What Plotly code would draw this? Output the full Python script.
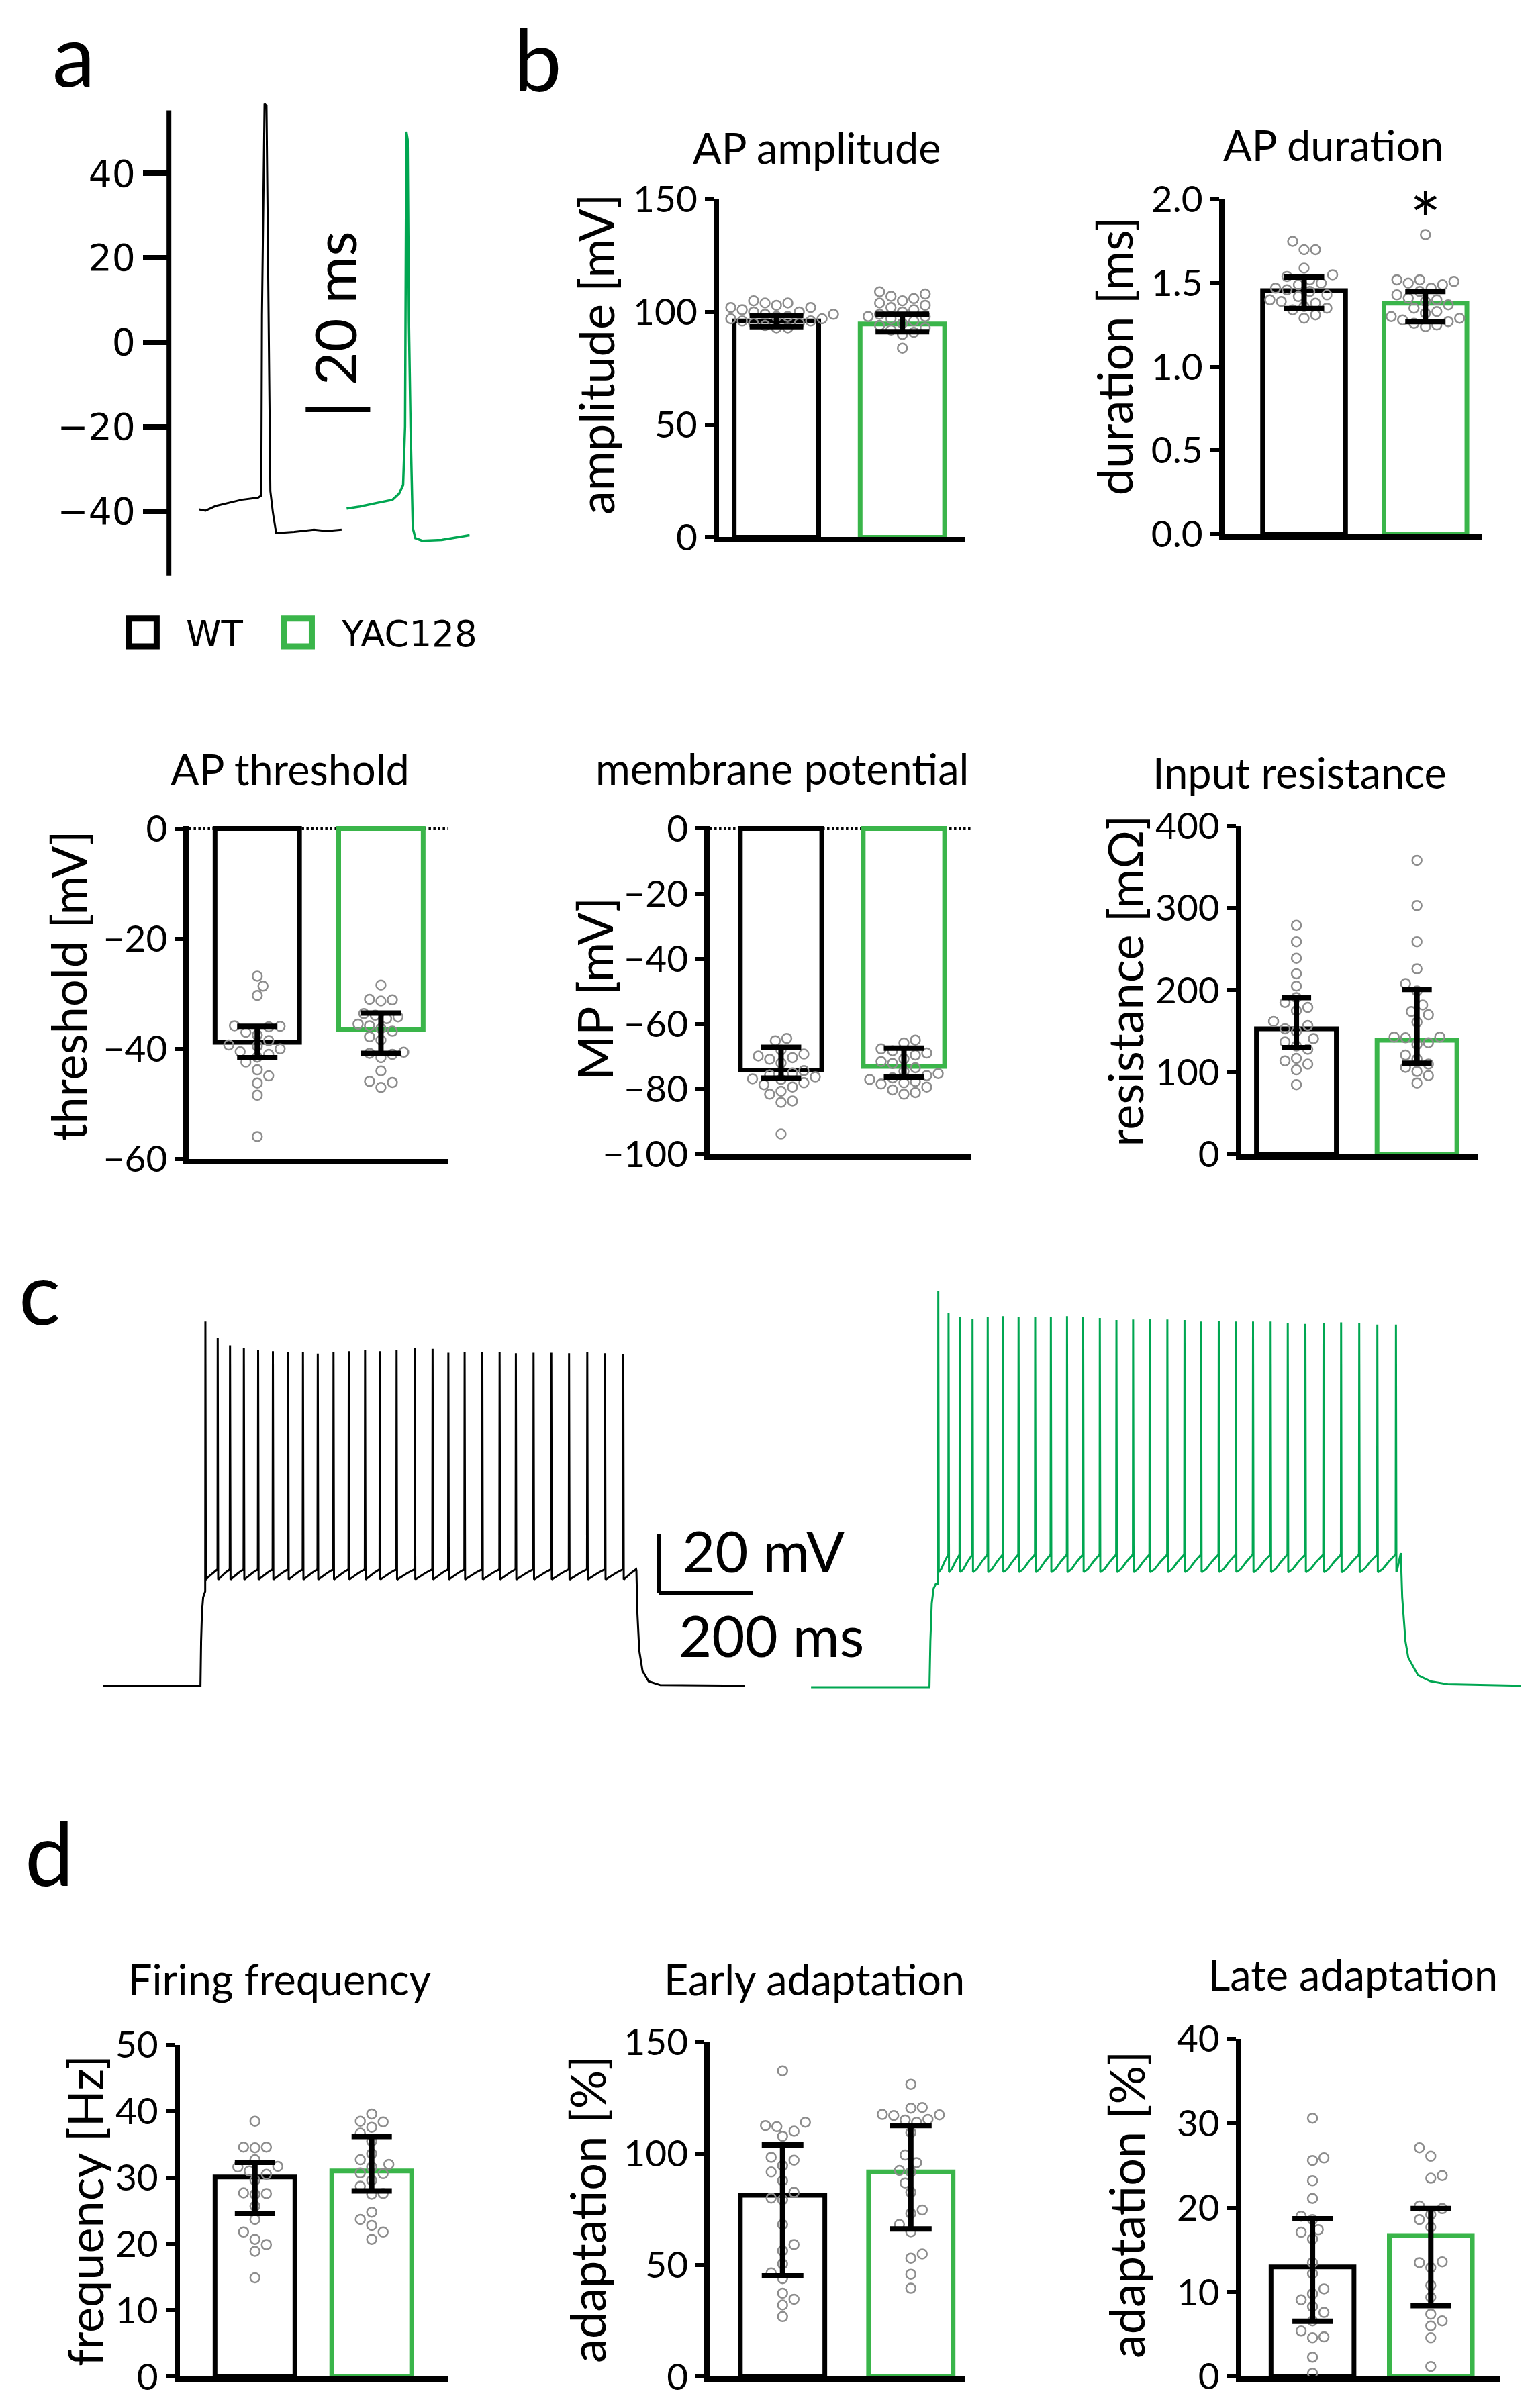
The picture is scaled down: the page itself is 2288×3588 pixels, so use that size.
import plotly.graph_objects as go

W, H = 2288, 3588
S = 2.288  # one reference layout unit -> output pixels

# the photographed page shows a slight vertical offset/compression; compensate it
Y_OFF, Y_K = 15.4, 0.9817


def PX(xd):
    return xd * S / W


def PY(yd):
    yc = (yd - Y_OFF) / Y_K
    return 1 - yc * S / H


BLACK = "#000000"
GREEN_BAR = "#3AB54A"
GREEN_TRACE = "#00A651"
GREY = "#8c8c8c"
FONT = "Lato"
FONT_A = "DejaVu Sans"

# ------------------------------------------------------------------ data
groups = ["WT", "YAC128"]

# panel a: single action potentials (time ms, voltage mV)
ap_wt_t = [0.0, 2.0, 5.1, 9.1, 13.2, 18.3, 19.3, 19.5, 20.3, 20.9, 21.3, 21.7, 22.1, 22.9, 23.9, 29.5, 35.6, 39.6, 44.2]
ap_wt_v = [-39.6, -39.9, -38.8, -38.1, -37.3, -36.8, -36.3, 6.3, 56.5, 56.0, 27.6, -7.9, -35.3, -40.4, -45.2, -44.9, -44.4, -44.7, -44.4]
ap_yac_t = [0.0, 4.1, 9.1, 14.2, 16.3, 17.5, 18.1, 18.5, 18.9, 19.3, 19.8, 20.5, 21.3, 23.4, 29.5, 34.5, 38.1]
ap_yac_v = [-39.4, -38.9, -38.1, -37.3, -35.8, -33.8, -20.0, 49.9, 48.0, 5.0, -20.0, -44.0, -46.4, -47.0, -46.8, -46.2, -45.7]
a_ticks = [-40, -20, 0, 20, 40]

# panel b / d : bar means, error-bar caps and individual cells
amp_mean = [96.0, 94.7]; amp_hi = [98.5, 99.0]; amp_lo = [93.5, 91.3]
amp_wt = [105, 104, 104, 103, 102, 102, 101, 100, 100, 99, 99, 98, 98, 97, 97, 96, 96, 95, 95, 94, 93, 93]
amp_yac = [109, 108, 107, 106, 105, 104, 103, 102, 101, 100, 99, 98, 98, 97, 96, 95, 94, 93, 92, 91, 90, 84]

dur_mean = [1.455, 1.38]; dur_hi = [1.536, 1.45]; dur_lo = [1.348, 1.27]
dur_wt = [1.75, 1.70, 1.70, 1.59, 1.55, 1.54, 1.52, 1.50, 1.49, 1.47, 1.46, 1.45, 1.43, 1.42, 1.40, 1.39, 1.38, 1.36, 1.35, 1.34, 1.31, 1.29]
dur_yac = [1.79, 1.52, 1.52, 1.51, 1.50, 1.49, 1.47, 1.45, 1.43, 1.41, 1.40, 1.39, 1.37, 1.35, 1.33, 1.32, 1.30, 1.29, 1.28, 1.27, 1.26, 1.25, 1.24]

thr_mean = [-38.8, -36.5]; thr_hi = [-35.9, -33.5]; thr_lo = [-41.6, -40.8]
thr_wt = [-26.8, -28.6, -30.3, -35.8, -35.9, -36.0, -37.0, -37.5, -38.5, -39.3, -39.5, -40.0, -40.5, -41.0, -41.5, -42.4, -43.8, -44.9, -46.2, -48.4, -55.9]
thr_yac = [-28.4, -31.0, -31.1, -31.3, -33.6, -33.9, -34.2, -34.5, -35.5, -35.8, -36.3, -36.8, -37.8, -38.4, -40.6, -40.8, -41.0, -41.6, -44.0, -45.9, -46.1, -47.0]

mp_mean = [-74.1, -73.0]; mp_hi = [-67.1, -67.4]; mp_lo = [-76.6, -76.3]
mp_wt = [-64.4, -65.1, -68.0, -69.2, -69.8, -70.3, -70.8, -72.0, -74.3, -75.0, -75.6, -76.2, -76.8, -77.0, -78.0, -78.6, -79.3, -80.6, -81.5, -83.6, -84.0, -93.7]
mp_yac = [-64.9, -65.8, -67.6, -68.2, -68.9, -69.5, -70.7, -71.5, -72.1, -73.4, -74.5, -75.2, -75.8, -76.5, -77.0, -77.6, -78.0, -78.4, -79.3, -80.2, -81.0, -81.5]

ir_mean = [153, 139]; ir_hi = [191, 201]; ir_lo = [130, 111]
ir_wt = [279, 259, 239, 220, 205, 191, 185, 179, 175, 162, 157, 153, 150, 141, 137, 132, 128, 117, 114, 110, 103, 85]
ir_yac = [358, 303, 259, 226, 208, 199, 182, 174, 170, 161, 143, 143, 142, 136, 134, 121, 116, 110, 106, 101, 96, 87]

ff_mean = [30.1, 31.0]; ff_hi = [32.3, 36.2]; ff_lo = [24.6, 28.0]
ff_wt = [38.5, 34.6, 34.6, 34.5, 32.7, 31.7, 31.6, 31.0, 30.5, 29.6, 27.7, 27.6, 27.5, 25.7, 23.7, 21.8, 20.7, 19.9, 18.9, 14.9]
ff_yac = [39.6, 38.5, 38.4, 37.6, 36.7, 35.5, 33.6, 32.7, 32.0, 31.6, 30.7, 30.6, 29.6, 28.7, 27.6, 27.5, 24.8, 23.7, 22.8, 21.8, 20.7]

ea_mean = [81.3, 91.7]; ea_hi = [103.8, 112.5]; ea_lo = [45.2, 66.2]
ea_wt = [137, 114, 112.5, 112, 110, 107.7, 98.3, 97, 94.6, 91.7, 87.8, 82.6, 80, 79.3, 68.2, 59.2, 56.4, 50.5, 46.5, 43.9, 37.4, 34.7, 32.1, 26.9]
ea_yac = [131, 120.6, 120.3, 117.5, 117.3, 117.0, 115.3, 115.0, 114, 109.4, 99.3, 95.9, 92.4, 91.7, 86.8, 82.6, 74.7, 73.1, 68.2, 64.9, 55, 53.1, 45.9, 39.6]

la_mean = [13.0, 16.7]; la_hi = [18.7, 19.9]; la_lo = [6.55, 8.4]
la_wt = [30.6, 25.9, 25.6, 23.2, 21.1, 19.0, 18.6, 17.4, 17.1, 16.3, 13.5, 12.2, 10.4, 9.8, 9.1, 8.3, 7.6, 6.6, 5.4, 4.7, 4.6, 2.3, 0.4]
la_yac = [27.1, 26.1, 23.8, 23.5, 20.2, 19.9, 19.2, 18.6, 17.7, 13.6, 13.5, 12.9, 10.8, 9.4, 7.4, 6.6, 6.0, 4.6, 1.2]

# panel c: spike trains during current step (ms, mV)
c_wt_on_t = [0.0, 208.3, 209.6, 211.5, 214.0, 217.6]
c_wt_on_v = [-70.0, -70.0, -55.0, -45.0, -40.0, -38.0]
c_wt_spk_t = [218.8, 245.1, 271.4, 300.9, 331.4, 362.9, 395.6, 427.1, 458.7, 492.3, 524.9, 559.7, 591.2, 627.0,
              665.9, 703.8, 737.5, 772.2, 810.0, 846.9, 881.6, 919.4, 957.3, 995.2, 1034.1, 1072.0, 1110.9]
c_wt_spk_v = [53.5, 48.0, 45.5, 44.7, 44.0, 43.5, 43.3, 43.3, 42.7, 43.3, 43.5, 44.0, 43.5, 44.0,
              44.5, 44.3, 43.0, 43.3, 43.3, 43.3, 42.8, 43.0, 43.0, 42.8, 43.3, 42.8, 42.5]
c_wt_trough = -33.0
c_wt_pre = -30.5
c_wt_off_t = [1139.0, 1141.0, 1145.0, 1152.0, 1165.0, 1190.0, 1370.7]
c_wt_off_v = [-31.0, -45.0, -58.0, -65.0, -68.5, -69.8, -70.0]

c_yac_on_t = [0.0, 253.1, 255.0, 258.0, 262.0, 266.5]
c_yac_on_v = [-70.5, -70.5, -55.0, -42.0, -37.0, -35.5]
c_yac_spk_t = [271.9, 293.8, 317.9, 345.1, 377.5, 409.9, 443.4, 478.9, 512.4, 546.9, 581.4, 617.0, 652.5, 688.1, 723.6,
               761.3, 797.9, 833.4, 871.1, 907.7, 944.3, 981.9, 1018.5, 1056.2, 1094.9, 1132.5, 1171.2, 1209.9, 1249.6]
c_yac_spk_v = [64.0, 56.5, 55.0, 54.3, 55.0, 55.3, 55.0, 55.0, 55.0, 55.3, 55.0, 54.7, 54.0, 54.2, 54.3,
               54.2, 54.0, 53.5, 53.7, 53.5, 53.5, 53.5, 53.0, 52.7, 53.0, 53.2, 53.0, 52.5, 52.5]
c_yac_trough = -30.5
c_yac_pre = -25.5
c_yac_off_t = [1260.0, 1263.0, 1270.0, 1276.0, 1297.0, 1323.0, 1360.0, 1516.0]
c_yac_off_v = [-25.0, -40.0, -55.0, -60.5, -66.5, -68.5, -69.5, -70.0]

# ------------------------------------------------------------------ helpers
fig = go.Figure()
layout = dict(width=W, height=H, margin=dict(l=0, r=0, t=0, b=0),
              paper_bgcolor="white", plot_bgcolor="rgba(0,0,0,0)",
              showlegend=False, shapes=[], annotations=[])


def ax(n, kind):
    return f"{kind}axis" + ("" if n == 1 else str(n))


def rf(n, kind):
    return kind + ("" if n == 1 else str(n))


def text(s, xd, yd, size, font=FONT, angle=0, xanchor="center", yanchor="middle"):
    layout["annotations"].append(dict(text=s, x=PX(xd), y=PY(yd), xref="paper", yref="paper",
                                      showarrow=False, textangle=angle, xanchor=xanchor, yanchor=yanchor,
                                      font=dict(family=font, size=size, color=BLACK)))


def swarm(vals, upx, xpx, d):
    order = sorted(range(len(vals)), key=lambda i: vals[i])
    placed = []
    offs = [0.0] * len(vals)
    for i in order:
        y = vals[i] * upx
        best = None
        k = 0
        while best is None:
            if k == 0:
                cands = [0.0]
            else:
                s = sum(p[0] for p in placed)
                cands = [-k * d * 0.5, k * d * 0.5] if s > 0 else [k * d * 0.5, -k * d * 0.5]
            for c in cands:
                if all((c - px) ** 2 + (y - py) ** 2 >= (d * 0.95) ** 2 for px, py in placed):
                    best = c
                    break
            k += 1
        placed.append((best, y))
        offs[i] = best / xpx
    return offs


def spike_train(on_t, on_v, spk_t, spk_v, trough, pre, off_t, off_v):
    t = list(on_t)
    v = list(on_v)
    n = len(spk_t)
    for i in range(n):
        ts, vs = spk_t[i], spk_v[i]
        nxt = spk_t[i + 1] if i + 1 < n else off_t[0]
        isi = nxt - ts
        t += [ts - 0.4, ts, ts + 1.0, ts + 0.28 * isi, ts + 0.6 * isi, nxt - 0.6]
        v += [v[-1] if i == 0 else pre, vs, trough - 1.0, trough, trough + 0.5 * (pre - trough), pre]
    t += list(off_t)
    v += list(off_v)
    return t, v

# ------------------------------------------------------------------ panel a
a_x0, a_x1 = 110, 310
a_t0_disp, a_pxms = 129.6, 2.1          # display position of t=0 and px per ms
a_y0_disp, a_pxmv = 223.0, 2.75         # display position of 0 mV and px per mV
yac_offset = (225.7 - a_t0_disp) / a_pxms
layout[ax(1, "x")] = dict(domain=[PX(a_x0), PX(a_x1)], anchor="y",
                          range=[(a_x0 - a_t0_disp) / a_pxms, (a_x1 - a_t0_disp) / a_pxms], visible=False)
layout[ax(1, "y")] = dict(domain=[PY(380), PY(60)], anchor="x",
                          range=[(a_y0_disp - 380) / a_pxmv, (a_y0_disp - 60) / a_pxmv],
                          showline=False, showgrid=False, zeroline=False, ticks="outside",
                          tickvals=a_ticks, ticklen=38, tickwidth=8, tickcolor=BLACK,
                          tickfont=dict(family=FONT_A, size=55, color=BLACK))
layout["shapes"].append(dict(type="line", xref="paper", yref="y", x0=PX(a_x0), x1=PX(a_x0),
                             y0=(a_y0_disp - 375) / a_pxmv, y1=(a_y0_disp - 72) / a_pxmv,
                             line=dict(color=BLACK, width=7)))
fig.add_trace(go.Scatter(x=ap_wt_t, y=ap_wt_v, mode="lines", line=dict(color=BLACK, width=3),
                         xaxis="x", yaxis="y", hoverinfo="skip"))
fig.add_trace(go.Scatter(x=[t + yac_offset for t in ap_yac_t], y=ap_yac_v, mode="lines",
                         line=dict(color=GREEN_TRACE, width=3.5), xaxis="x", yaxis="y", hoverinfo="skip"))
# scale bar "20 ms"
bar_t0 = (199 - a_t0_disp) / a_pxms
layout["shapes"].append(dict(type="line", xref="x", yref="y", x0=bar_t0, x1=bar_t0 + 20,
                             y0=(a_y0_disp - 267) / a_pxmv, y1=(a_y0_disp - 267) / a_pxmv,
                             line=dict(color=BLACK, width=7)))
text("20 ms", 217.5, 201, 86, angle=-90)

# legend
for (x0, col, lab, lx) in [(82, BLACK, "WT", 120), (183, GREEN_BAR, "YAC128", 221)]:
    layout["shapes"].append(dict(type="rect", xref="paper", yref="paper",
                                 x0=PX(x0 + 2), x1=PX(x0 + 20), y0=PY(421), y1=PY(403),
                                 line=dict(color=col, width=9), fillcolor="white"))
    text(lab, lx, 413, 53, font=FONT_A, xanchor="left")

# ------------------------------------------------------------------ bar panels
specs = [
    dict(n=2, wt=amp_wt, yac=amp_yac, mean=amp_mean, hi=amp_hi, lo=amp_lo, cap=40,
         ax0=468, ax1=628, c1=505.5, c2=587.5, w=55, ytop=130, ybot=350, rng=[0, 150],
         ticks=[0, 50, 100, 150], fmt="", title="AP amplitude", tx=532, ty=96,
         ylab="amplitude [mV]", lx=388, ly=231),
    dict(n=3, wt=dur_wt, yac=dur_yac, mean=dur_mean, hi=dur_hi, lo=dur_lo, cap=30,
         ax0=797, ax1=965, c1=849, c2=928, w=54, ytop=130, ybot=348, rng=[0, 2],
         ticks=[0, 0.5, 1, 1.5, 2], fmt=".1f", title="AP duration", tx=868, ty=94.5,
         ylab="duration [ms]", lx=725, ly=232),
    dict(n=4, wt=thr_wt, yac=thr_yac, mean=thr_mean, hi=thr_hi, lo=thr_lo, cap=30,
         ax0=123, ax1=292, c1=167.5, c2=248, w=55, ytop=538, ybot=755, rng=[-60, 0],
         ticks=[-60, -40, -20, 0], fmt="", title="AP threshold", tx=189, ty=501,
         ylab="threshold [mV]", lx=44, ly=642, neg=True),
    dict(n=5, wt=mp_wt, yac=mp_yac, mean=mp_mean, hi=mp_hi, lo=mp_lo, cap=30,
         ax0=462, ax1=632, c1=508.5, c2=588.5, w=53, ytop=538, ybot=752, rng=[-100, 0],
         ticks=[-100, -80, -60, -40, -20, 0], fmt="", title="membrane potential", tx=509, ty=500.5,
         ylab="MP [mV]", lx=387, ly=644, neg=True),
    dict(n=6, wt=ir_wt, yac=ir_yac, mean=ir_mean, hi=ir_hi, lo=ir_lo, cap=22,
         ax0=808, ax1=962, c1=844, c2=922.5, w=52, ytop=538, ybot=752, rng=[0, 400],
         ticks=[0, 100, 200, 300, 400], fmt="", title="Input resistance", tx=846, ty=503,
         ylab="resistance [mΩ]", lx=732, ly=639),
    dict(n=9, wt=ff_wt, yac=ff_yac, mean=ff_mean, hi=ff_hi, lo=ff_lo, cap=30,
         ax0=117, ax1=292, c1=166, c2=242, w=52, ytop=1332, ybot=1548, rng=[0, 50],
         ticks=[0, 10, 20, 30, 40, 50], fmt="", title="Firing frequency", tx=182, ty=1289,
         ylab="frequency [Hz]", lx=55, ly=1440),
    dict(n=10, wt=ea_wt, yac=ea_yac, mean=ea_mean, hi=ea_hi, lo=ea_lo, cap=31,
         ax0=462, ax1=628, c1=509.5, c2=593, w=55, ytop=1330, ybot=1548, rng=[0, 150],
         ticks=[0, 50, 100, 150], fmt="", title="Early adaptation", tx=530, ty=1289,
         ylab="adaptation [%]", lx=382, ly=1439),
    dict(n=11, wt=la_wt, yac=la_yac, mean=la_mean, hi=la_hi, lo=la_lo, cap=30,
         ax0=808, ax1=977, c1=854.5, c2=931.5, w=54, ytop=1328, ybot=1548, rng=[0, 40],
         ticks=[0, 10, 20, 30, 40], fmt="", title="Late adaptation", tx=881, ty=1286,
         ylab="adaptation [%]", lx=733, ly=1436),
]

for sp in specs:
    n = sp["n"]
    xr, yr = rf(n, "x"), rf(n, "y")
    spacing = sp["c2"] - sp["c1"]
    xrange_ = [-(sp["c1"] - sp["ax0"]) / spacing, (sp["ax1"] - sp["c1"]) / spacing]
    r0, r1 = sp["rng"]
    yrange_ = [r0, r1 + (r1 - r0) * 0.008] if sp.get("neg") else [r0, r1]
    layout[ax(n, "x")] = dict(domain=[PX(sp["ax0"]), PX(sp["ax1"])], anchor=yr, range=xrange_,
                              showline=True, linewidth=8, linecolor=BLACK, showticklabels=False,
                              ticks="", showgrid=False, zeroline=False)
    layout[ax(n, "y")] = dict(domain=[PY(sp["ybot"]), PY(sp["ytop"])], anchor=xr, range=yrange_,
                              showline=True, linewidth=8, linecolor=BLACK, ticks="outside",
                              ticklen=13, tickwidth=6, tickcolor=BLACK, tickvals=sp["ticks"],
                              tickformat=sp["fmt"], showgrid=False, zeroline=False,
                              tickfont=dict(family=FONT, size=55, color=BLACK))
    if sp.get("neg"):
        layout["shapes"].append(dict(type="line", xref=xr, yref=yr, x0=xrange_[0], x1=xrange_[1],
                                     y0=0, y1=0, layer="below",
                                     line=dict(color=BLACK, width=3.5, dash="dot")))
    fig.add_trace(go.Bar(x=[0, 1], y=sp["mean"], width=sp["w"] / spacing, xaxis=xr, yaxis=yr,
                         marker=dict(color="white", line=dict(color=[BLACK, GREEN_BAR], width=7)),
                         hoverinfo="skip"))
    upx = (sp["ybot"] - sp["ytop"]) * S / (r1 - r0)
    xpx = spacing * S
    for gi, pts in enumerate([sp["wt"], sp["yac"]]):
        offs = swarm(pts, upx, xpx, 17)
        fig.add_trace(go.Scatter(x=[gi + o for o in offs], y=pts, mode="markers", xaxis=xr, yaxis=yr,
                                 cliponaxis=False, hoverinfo="skip",
                                 marker=dict(symbol="circle-open", size=14, color=GREY,
                                             line=dict(width=2.5, color=GREY))))
    fig.add_trace(go.Scatter(x=[0, 1], y=sp["mean"], mode="markers", xaxis=xr, yaxis=yr,
                             marker=dict(size=1, opacity=0), hoverinfo="skip", cliponaxis=False,
                             error_y=dict(type="data", symmetric=False,
                                          array=[h - m for h, m in zip(sp["hi"], sp["mean"])],
                                          arrayminus=[m - l for m, l in zip(sp["mean"], sp["lo"])],
                                          color=BLACK, thickness=8, width=sp["cap"])))
    text(sp["title"], sp["tx"], sp["ty"], 63)
    text(sp["ylab"], sp["lx"], sp["ly"], 72, angle=-90)

# significance asterisk on AP duration (YAC128)
text("*", 928, 142, 110)

# ------------------------------------------------------------------ panel c
c_top, c_bot = 830, 1110
c_pxmv = 1.92
c_yr = [-70 - (c_bot - 1098) / c_pxmv, -70 + (1098 - c_top) / c_pxmv]
wt_t, wt_v = spike_train(c_wt_on_t, c_wt_on_v, c_wt_spk_t, c_wt_spk_v, c_wt_trough, c_wt_pre,
                         c_wt_off_t, c_wt_off_v)
yac_t, yac_v = spike_train(c_yac_on_t, c_yac_on_v, c_yac_spk_t, c_yac_spk_v, c_yac_trough, c_yac_pre,
                           c_yac_off_t, c_yac_off_v)
layout[ax(7, "x")] = dict(domain=[PX(67), PX(485)], anchor="y7", range=[0, c_wt_off_t[-1]], visible=False)
layout[ax(7, "y")] = dict(domain=[PY(c_bot), PY(c_top)], anchor="x7", range=c_yr, visible=False)
layout[ax(8, "x")] = dict(domain=[PX(528), PX(990)], anchor="y8", range=[0, c_yac_off_t[-1]], visible=False)
layout[ax(8, "y")] = dict(domain=[PY(c_bot), PY(c_top)], anchor="x8", range=c_yr, visible=False)
fig.add_trace(go.Scatter(x=wt_t, y=wt_v, mode="lines", line=dict(color=BLACK, width=3),
                         xaxis="x7", yaxis="y7", hoverinfo="skip"))
fig.add_trace(go.Scatter(x=yac_t, y=yac_v, mode="lines", line=dict(color=GREEN_TRACE, width=3),
                         xaxis="x8", yaxis="y8", hoverinfo="skip"))
c_pxms = (485 - 67) / c_wt_off_t[-1]
sb_x, sb_y = 429, 999
sb_v = 20 * c_pxmv
sb_h = 200 * c_pxms
layout["shapes"].append(dict(type="line", xref="paper", yref="paper", x0=PX(sb_x), x1=PX(sb_x),
                             y0=PY(sb_y), y1=PY(sb_y + sb_v), line=dict(color=BLACK, width=6)))
layout["shapes"].append(dict(type="line", xref="paper", yref="paper", x0=PX(sb_x), x1=PX(sb_x + sb_h),
                             y0=PY(sb_y + sb_v), y1=PY(sb_y + sb_v), line=dict(color=BLACK, width=6)))
text("20 mV", 443, 1010, 85, xanchor="left")
text("200 ms", 441, 1065, 85, xanchor="left")

# ------------------------------------------------------------------ panel letters
text("a", 48, 35, 128)
text("b", 350, 38, 128)
text("c", 26, 841, 130)
text("d", 32, 1206, 130)

fig.update_layout(**layout)
fig.write_html("out.html", config={"displayModeBar": False},
               post_script="document.body.style.margin='0px';document.body.style.padding='0px';")
